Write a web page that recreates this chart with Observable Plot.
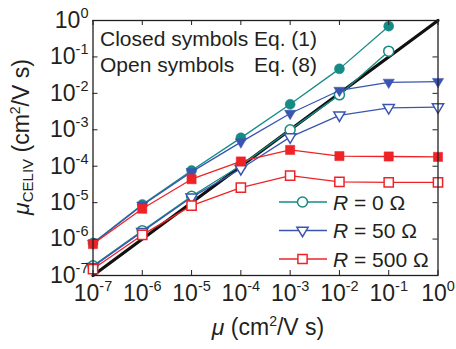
<!DOCTYPE html>
<html><head><meta charset="utf-8">
<script src="https://cdn.jsdelivr.net/npm/d3@7"></script>
<script src="https://cdn.jsdelivr.net/npm/@observablehq/plot@0.6"></script>
<style>
body{margin:0;background:#fff}
</style></head><body><div id="chart"></div>
<script>
// ---- data ----
const mobility = [1e-7, 1e-6, 1e-5, 1e-4, 1e-3, 1e-2, 1e-1, 1];
// closed symbols: Eq. (1)
const eq1R0   = [7.8e-7, 8.9e-6, 7.6e-5, 6.0e-4, 5.0e-3, 4.7e-2, 0.70];
const eq1R50  = [7.6e-7, 8.5e-6, 7.0e-5, 4.6e-4, 2.8e-3, 1.2e-2, 2.0e-2, 2.1e-2];
const eq1R500 = [7.3e-7, 6.8e-6, 4.4e-5, 1.35e-4, 2.8e-4, 1.9e-4, 1.85e-4, 1.8e-4];
// open symbols: Eq. (8)
const eq8R0   = [1.85e-7, 1.7e-6, 1.5e-5, 1.05e-4, 1.0e-3, 9.1e-3, 0.144];
const eq8R50  = [1.75e-7, 1.6e-6, 1.4e-5, 8.5e-5, 6.3e-4, 2.5e-3, 4.0e-3, 4.2e-3];
const eq8R500 = [1.5e-7, 1.3e-6, 8.3e-6, 2.6e-5, 5.5e-5, 3.7e-5, 3.6e-5, 3.6e-5];
const identityLine = [1e-7, 1];
const xTicks = [1e-7, 1e-6, 1e-5, 1e-4, 1e-3, 1e-2, 1e-1, 1];
const yTicks = [1e-7, 1e-6, 1e-5, 1e-4, 1e-3, 1e-2, 1e-1, 1];
const legendR = ["0", "50", "500"];
const annotationLeft = ["Closed symbols", "Open symbols"];
const annotationRight = ["Eq. (1)", "Eq. (8)"];

// ---- styles ----
const colors = ["#168b86", "#3a55b0", "#ee2327"];
const triangleDown = {
  draw(ctx, size) {
    const r = Math.sqrt(size / Math.PI);
    ctx.moveTo(-1.25 * r, -0.72 * r);
    ctx.lineTo(1.25 * r, -0.72 * r);
    ctx.lineTo(0, 1.38 * r);
    ctx.closePath();
  }
};
const symbols = [d3.symbolCircle, triangleDown, d3.symbolSquare];
const radii = [5, 4.5, 5.2];
const closedSets = [eq1R0, eq1R50, eq1R500];
const openSets = [eq8R0, eq8R50, eq8R500];

const toRows = arr => arr.map((v, j) => ({mu: mobility[j], v}));

const seriesMarks = [];
for (let i = 0; i < 3; i++) {
  const closed = toRows(closedSets[i]);
  const open = toRows(openSets[i]);
  seriesMarks.push(
    Plot.line(closed, {x: "mu", y: "v", stroke: colors[i], strokeWidth: 1.3}),
    Plot.line(open, {x: "mu", y: "v", stroke: colors[i], strokeWidth: 1.3}),
    Plot.dot(closed, {x: "mu", y: "v", symbol: symbols[i], r: radii[i], fill: colors[i], stroke: colors[i], strokeWidth: 0.5}),
    Plot.dot(open, {x: "mu", y: "v", symbol: symbols[i], r: radii[i], fill: "white", stroke: colors[i], strokeWidth: 1.5})
  );
}

const W = 456, H = 349;
const mT = 20, mR = 18.5, mB = 74, mL = 92.5;
const fw = W - mL - mR, fh = H - mT - mB;
const expFmt = d => String(Math.round(Math.log10(d)));
const ink = "#231f20";
const font = "'Liberation Sans', Arial, sans-serif";

const chart = Plot.plot({
  width: W, height: H,
  marginTop: mT, marginRight: mR, marginBottom: mB, marginLeft: mL,
  style: {fontFamily: font, fontSize: "22px", color: ink, background: "#fff"},
  x: {type: "log", domain: [1e-7, 1]},
  y: {type: "log", domain: [1e-7, 1]},
  marks: [
    Plot.line(identityLine, {x: d => d, y: d => d, stroke: "#111", strokeWidth: 3.2}),
    ...seriesMarks,
    Plot.tickX(xTicks, {x: d => d, insetTop: fh - 5, stroke: ink, strokeWidth: 1}),
    Plot.tickX(xTicks, {x: d => d, insetBottom: fh - 5, stroke: ink, strokeWidth: 1}),
    Plot.tickY(yTicks, {y: d => d, insetRight: fw - 5, stroke: ink, strokeWidth: 1}),
    Plot.tickY(yTicks, {y: d => d, insetLeft: fw - 5, stroke: ink, strokeWidth: 1}),
    Plot.axisX(xTicks, {anchor: "bottom", tickSize: 0, tickPadding: 9, fontSize: 23, tickFormat: expFmt, label: null}),
    Plot.axisY(yTicks, {anchor: "left", tickSize: 0, tickPadding: 4.5, fontSize: 23, tickFormat: expFmt, label: null}),
    Plot.frame({stroke: ink, strokeWidth: 1.3})
  ]
});

const svg = d3.select(chart);
svg.selectAll('g[aria-label="x-axis tick label"] text, g[aria-label="y-axis tick label"] text').each(function () {
  const e = this.textContent;
  this.textContent = "10";
  this.setAttribute("font-size", "23px");
  this.style.fontSize = "23px";
  d3.select(this).append("tspan").style("font-size", "14.5px").attr("dy", -10).text(e);
});

const addText = (x, y, size, anchor) => svg.append("text").attr("x", x).attr("y", y)
  .attr("font-size", size).attr("font-family", font).attr("text-anchor", anchor).attr("fill", ink);

// axis titles
const xl = addText(mL + fw / 2 + 3, 335, 23, "middle");
xl.append("tspan").attr("font-style", "italic").text("μ");
xl.append("tspan").text(" (cm");
xl.append("tspan").attr("font-size", 14).attr("dy", -9).text("2");
xl.append("tspan").attr("dy", 9).text("/V s)");

const yl = addText(0, 0, 23, "middle").attr("transform", `translate(29,${mT + 117}) rotate(-90)`);
yl.append("tspan").attr("font-style", "italic").text("μ");
yl.append("tspan").attr("font-size", 15).attr("dy", 4).text("CELIV");
yl.append("tspan").attr("dy", -4).text(" (cm");
yl.append("tspan").attr("font-size", 14).attr("dy", -9).text("2");
yl.append("tspan").attr("dy", 9).text("/V s)");

// annotation
annotationLeft.forEach((t, i) => {
  addText(100, 46 + 26 * i, 21, "start").text(t);
  addText(254, 46 + 26 * i, 21, "start").text(annotationRight[i]);
});

// legend
legendR.forEach((r, i) => {
  const cy = 202 + 28.5 * i;
  svg.append("line").attr("x1", 279).attr("x2", 327).attr("y1", cy).attr("y2", cy)
    .attr("stroke", colors[i]).attr("stroke-width", 1.3);
  svg.append("path").attr("d", d3.symbol(symbols[i], Math.PI * radii[i] * radii[i])())
    .attr("transform", `translate(302.5,${cy})`).attr("fill", "white")
    .attr("stroke", colors[i]).attr("stroke-width", 1.5);
  const t = addText(333, cy + 7.5, 21, "start");
  t.append("tspan").attr("font-style", "italic").text("R");
  t.append("tspan").text(` = ${r} Ω`);
});

document.getElementById("chart").appendChild(chart);
</script>
</body></html>
